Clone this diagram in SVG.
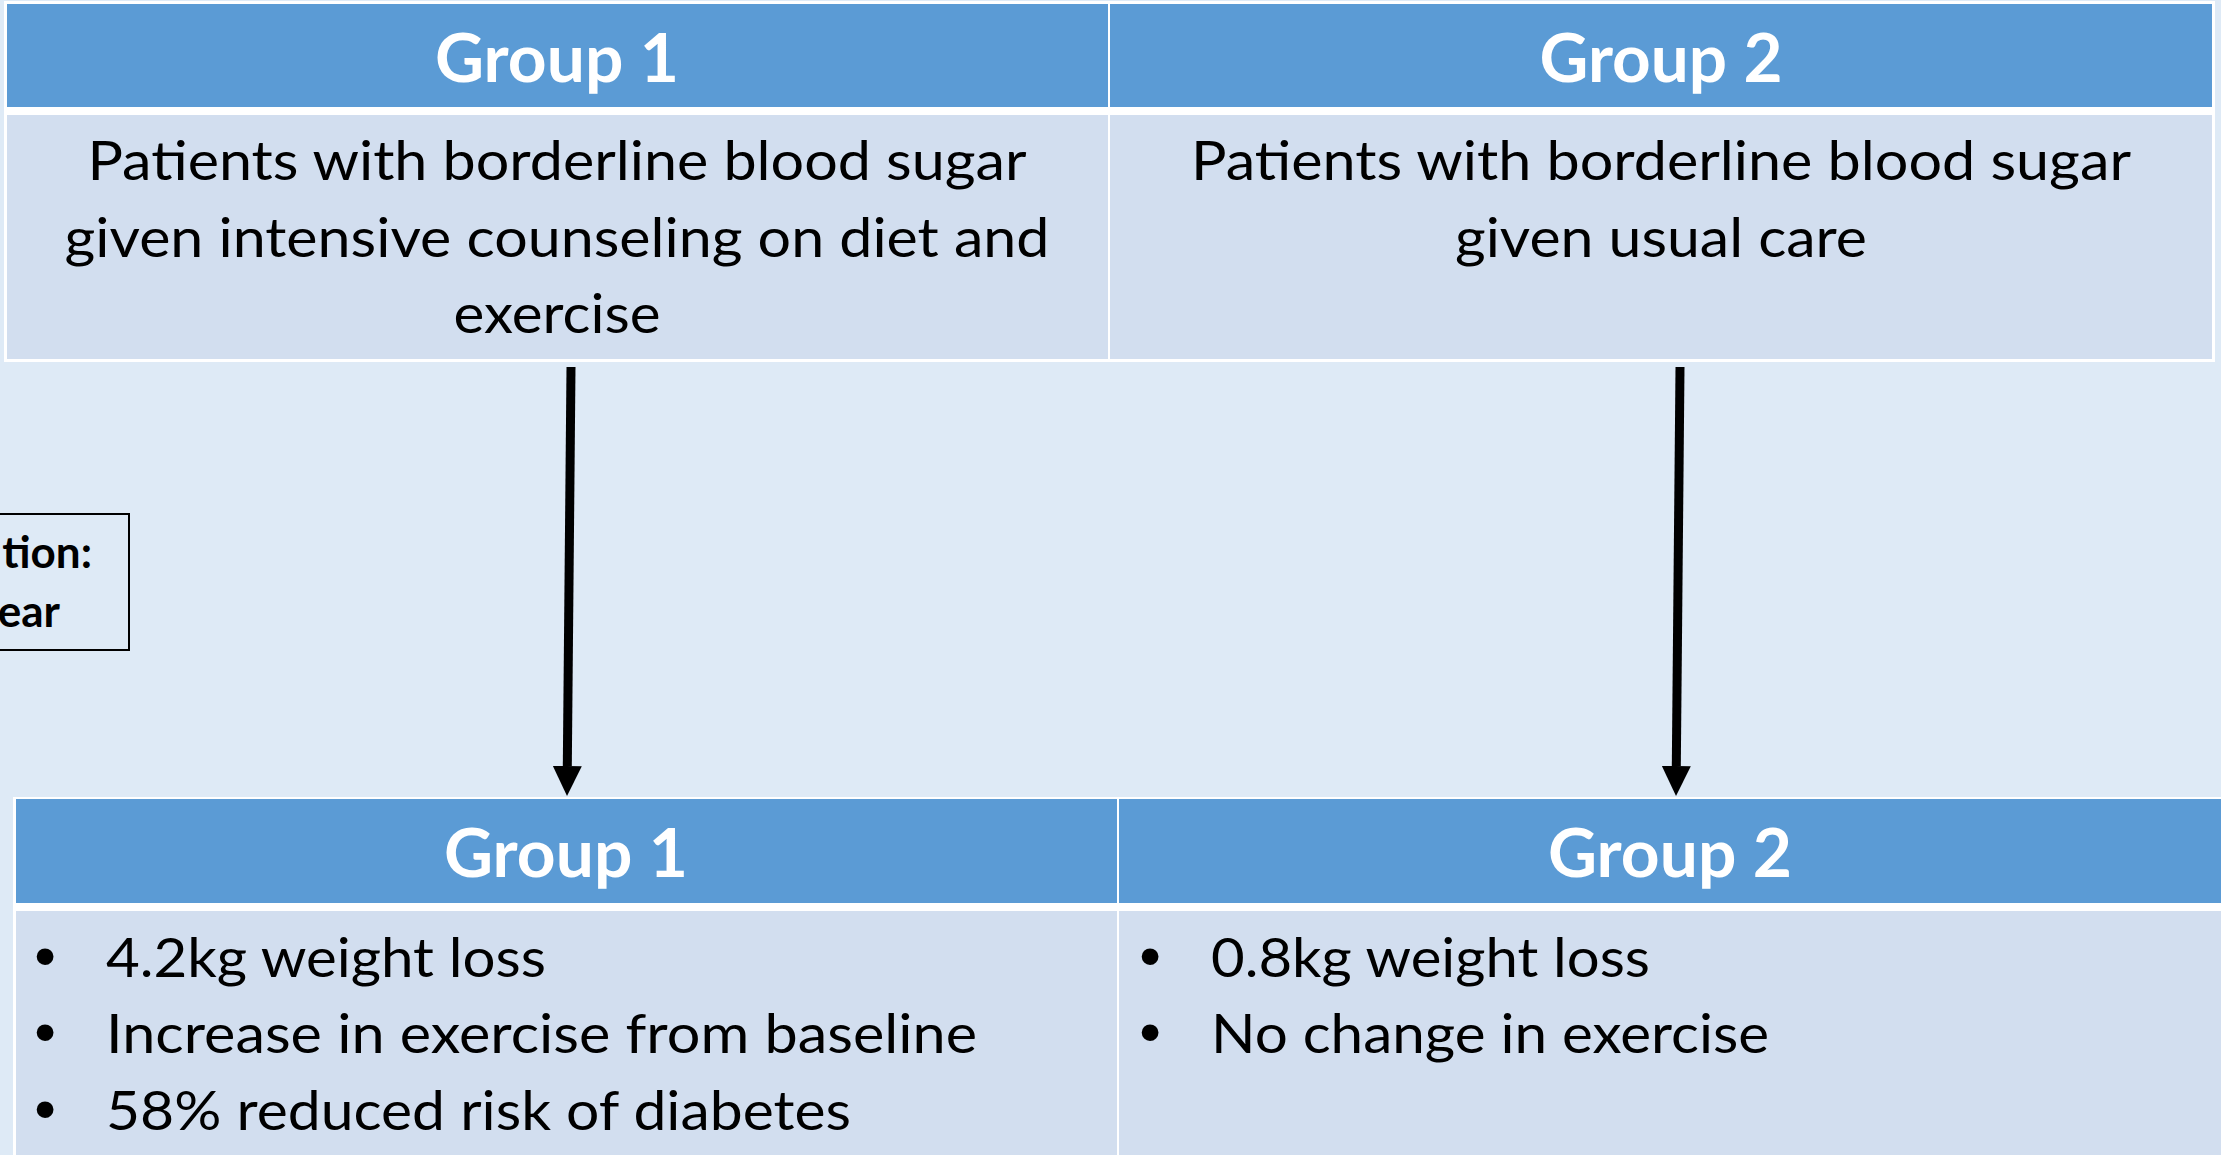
<svg xmlns="http://www.w3.org/2000/svg" width="2221" height="1155" viewBox="0 0 2221 1155">
<style>
.hdr{fill:#5B9BD5}
.body{fill:#D2DEEF}
.border{fill:#FFFFFF}
.ht{font-family:Lato,"Open Sans","Liberation Sans",sans-serif;font-weight:bold;font-size:67px;fill:#FFFFFF;text-anchor:middle}
.bt{font-family:Lato,"Open Sans","Liberation Sans",sans-serif;font-size:55px;fill:#000000;text-anchor:middle}
.lt{font-family:Lato,"Open Sans","Liberation Sans",sans-serif;font-size:55px;fill:#000000}
.bul{font-family:"Liberation Sans",Arial,sans-serif;font-size:62px;fill:#000000;text-anchor:middle}
.st{font-family:Lato,"Open Sans","Liberation Sans",sans-serif;font-weight:bold;font-size:44px;fill:#000000;text-anchor:end}
.conn{stroke:#000000;stroke-width:9;fill:none}
</style>
<defs>
<marker id="arrow" viewBox="0 0 30 29" refX="0" refY="14.5" markerWidth="30" markerHeight="29" markerUnits="userSpaceOnUse" orient="auto">
<path d="M0,0 L30,14.5 L0,29 Z" fill="#000000"/>
</marker>
</defs>
<rect x="0" y="0" width="2221" height="1155" fill="#DEEAF6"/>

<!-- top table -->
<rect class="border" x="4" y="1" width="2211" height="361"/>
<g id="top-group1-header">
<rect class="hdr" x="7" y="4" width="1101" height="103"/>
<text class="ht" x="557" y="82" textLength="244" lengthAdjust="spacingAndGlyphs">Group 1</text>
</g>
<g id="top-group2-header">
<rect class="hdr" x="1110" y="4" width="1102" height="103"/>
<text class="ht" x="1661" y="82" textLength="243" lengthAdjust="spacingAndGlyphs">Group 2</text>
</g>
<g id="top-group1-body">
<rect class="body" x="7" y="115" width="1101" height="244"/>
<text class="bt" x="557" y="180" textLength="939" lengthAdjust="spacingAndGlyphs">Patients with borderline blood sugar</text>
<text class="bt" x="557" y="257" textLength="985" lengthAdjust="spacingAndGlyphs">given intensive counseling on diet and</text>
<text class="bt" x="557" y="333" textLength="207" lengthAdjust="spacingAndGlyphs">exercise</text>
</g>
<g id="top-group2-body">
<rect class="body" x="1110" y="115" width="1102" height="244"/>
<text class="bt" x="1661" y="180" textLength="940" lengthAdjust="spacingAndGlyphs">Patients with borderline blood sugar</text>
<text class="bt" x="1661" y="257" textLength="412" lengthAdjust="spacingAndGlyphs">given usual care</text>
</g>

<!-- side box -->
<g id="side-box">
<rect x="-4" y="514" width="133" height="136" fill="none" stroke="#000000" stroke-width="2"/>
<text class="st" x="92" y="568">tion:</text>
<text class="st" x="60" y="627">ear</text>
</g>

<!-- bottom table -->
<rect class="border" x="13" y="797" width="2215" height="360"/>
<g id="bottom-group1-header">
<rect class="hdr" x="16" y="799" width="1101" height="104"/>
<text class="ht" x="566" y="877" textLength="244" lengthAdjust="spacingAndGlyphs">Group 1</text>
</g>
<g id="bottom-group2-header">
<rect class="hdr" x="1119" y="799" width="1110" height="104"/>
<text class="ht" x="1670" y="877" textLength="244" lengthAdjust="spacingAndGlyphs">Group 2</text>
</g>
<g id="bottom-group1-body">
<rect class="body" x="16" y="911" width="1101" height="250"/>
<text class="bul" x="45" y="977">•</text>
<text class="bul" x="45" y="1053">•</text>
<text class="bul" x="45" y="1130">•</text>
<text class="lt" x="106" y="977" textLength="440" lengthAdjust="spacingAndGlyphs">4.2kg weight loss</text>
<text class="lt" x="106" y="1053" textLength="871" lengthAdjust="spacingAndGlyphs">Increase in exercise from baseline</text>
<text class="lt" x="106" y="1130" textLength="745" lengthAdjust="spacingAndGlyphs">58% reduced risk of diabetes</text>
</g>
<g id="bottom-group2-body">
<rect class="body" x="1119" y="911" width="1110" height="250"/>
<text class="bul" x="1150" y="977">•</text>
<text class="bul" x="1150" y="1053">•</text>
<text class="lt" x="1211" y="977" textLength="439" lengthAdjust="spacingAndGlyphs">0.8kg weight loss</text>
<text class="lt" x="1211" y="1053" textLength="558" lengthAdjust="spacingAndGlyphs">No change in exercise</text>
</g>

<!-- connectors -->
<g id="connectors">
<path class="conn" d="M571,367 L567.3,766" marker-end="url(#arrow)"/>
<path class="conn" d="M1680,367 L1676.3,766" marker-end="url(#arrow)"/>
</g>
</svg>
